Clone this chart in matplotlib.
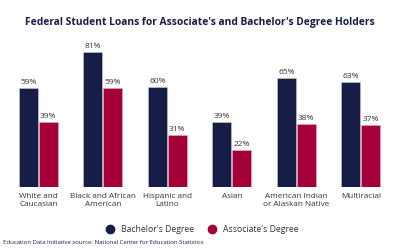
import numpy as np
import matplotlib
matplotlib.use("Agg")
import matplotlib.pyplot as plt
from matplotlib.lines import Line2D

# Data
categories = ["White and\nCaucasian", "Black and African\nAmerican", "Hispanic and\nLatino",
              "Asian", "American Indian\nor Alaskan Native", "Multiracial"]
bachelors = [59, 81, 60, 39, 65, 63]
associates = [39, 59, 31, 22, 38, 37]

navy = "#161d47"
red = "#a6003a"
text_col = "#333333"

plt.rcParams["font.family"] = ["Open Sans", "DejaVu Sans"]

fig = plt.figure(figsize=(4.0, 2.5), dpi=100)
ax = fig.add_axes([6 / 400, 63 / 250, 387 / 400, 167 / 250])

x = np.arange(len(categories))
w = 0.295
off = 0.155
b1 = ax.bar(x - off, bachelors, w, color=navy, edgecolor="#c9c9d0", linewidth=0.4)
b2 = ax.bar(x + off, associates, w, color=red, edgecolor="#e0b0bd", linewidth=0.4)

for bars, vals in ((b1, bachelors), (b2, associates)):
    for r, v in zip(bars, vals):
        ax.text(r.get_x() + r.get_width() / 2, v + 1.2, f"{v}%", ha="center", va="bottom",
                fontsize=6.0, color=text_col)

ax.set_xlim(-0.5, len(categories) - 0.5)
ax.set_ylim(0, 100)
ax.set_xticks(x)
ax.set_xticklabels(categories, fontsize=5.9, color=text_col, linespacing=1.35)
ax.tick_params(axis="x", length=0, pad=4)
ax.set_yticks([])
for s in ax.spines.values():
    s.set_visible(False)

fig.text(0.5, 1 - 23 / 250, "Federal Student Loans for Associate's and Bachelor's Degree Holders",
         ha="center", va="center", fontsize=7.4, fontweight="bold", color=navy)

handles = [Line2D([], [], marker="o", linestyle="", markersize=6, color=navy),
           Line2D([], [], marker="o", linestyle="", markersize=6, color=red)]
fig.legend(handles, ["Bachelor's Degree", "Associate's Degree"], loc="center",
           bbox_to_anchor=(0.5, 1 - 230 / 250), ncol=2, frameon=False, fontsize=6.2,
           handletextpad=0.3, columnspacing=1.0, labelcolor=text_col)

fig.text(3 / 400, 1 - 243 / 250, "Education Data Initiative source: National Center for Education Statistics",
         ha="left", va="center", fontsize=4.3, color=navy)

fig.savefig("out.png", dpi=100)
